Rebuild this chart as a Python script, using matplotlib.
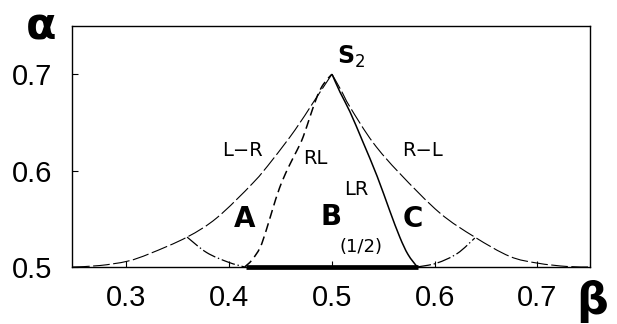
import matplotlib
matplotlib.use("Agg")
import matplotlib.pyplot as plt
from matplotlib.path import Path
from matplotlib.patches import PathPatch
import numpy as np

plt.rcParams['font.family'] = ['DejaVu Sans']
plt.rcParams['lines.scale_dashes'] = False

# phase boundaries in the (beta, alpha) plane
lr_x = [0.248, 0.274, 0.301, 0.323, 0.359, 0.388, 0.423, 0.442, 0.464, 0.482, 0.500]
lr_y = [0.500, 0.5015, 0.506, 0.514, 0.531, 0.551, 0.587, 0.611, 0.642, 0.671, 0.700]

rl_x = [0.500, 0.509, 0.5175, 0.540, 0.566, 0.605, 0.639, 0.673, 0.700, 0.729, 0.751]
rl_y = [0.700, 0.683, 0.666, 0.629, 0.597, 0.556, 0.531, 0.511, 0.504, 0.5005, 0.500]

rl_in_x = [0.415, 0.422, 0.430, 0.436, 0.442, 0.449, 0.457, 0.466, 0.472, 0.479, 0.486, 0.492, 0.500]
rl_in_y = [0.500, 0.507, 0.520, 0.538, 0.559, 0.582, 0.602, 0.621, 0.635, 0.657, 0.678, 0.690, 0.700]

lr_in_x = [0.500, 0.508, 0.5175, 0.530, 0.544, 0.556, 0.566, 0.574, 0.583]
lr_in_y = [0.700, 0.681, 0.661, 0.630, 0.594, 0.559, 0.531, 0.513, 0.500]

a_x = [0.359, 0.378, 0.399, 0.415]
a_y = [0.531, 0.515, 0.505, 0.500]
c_x = [0.583, 0.602, 0.622, 0.639]
c_y = [0.500, 0.504, 0.514, 0.530]

seg_x = [0.416, 0.584]
seg_y = [0.5, 0.5]

xticks = [0.3, 0.4, 0.5, 0.6, 0.7]
yticks = [0.5, 0.6, 0.7]


def smooth(ax, xs, ys, **kw):
    # Catmull-Rom through the points, drawn as cubic Bezier segments
    p = np.column_stack([xs, ys])
    n = len(p)
    verts = [p[0]]
    codes = [Path.MOVETO]
    for i in range(n - 1):
        p0 = p[i - 1] if i > 0 else p[i]
        p3 = p[i + 2] if i + 2 < n else p[i + 1]
        verts += [p[i] + (p[i + 1] - p0) / 6, p[i + 1] - (p3 - p[i]) / 6, p[i + 1]]
        codes += [Path.CURVE4] * 3
    ax.add_patch(PathPatch(Path(verts, codes), fill=False, edgecolor='black', **kw))


fig = plt.figure(figsize=(6.17, 3.24), dpi=100)
ax = fig.add_axes([0.1167, 0.176, 0.8393, 0.744])

smooth(ax, lr_x, lr_y, lw=0.8, linestyle=(0, (12, 2.5)))
smooth(ax, rl_x, rl_y, lw=0.8, linestyle=(0, (12, 2.5)))
smooth(ax, rl_in_x, rl_in_y, lw=1.1, linestyle=(0, (6.5, 3.5)))
smooth(ax, lr_in_x, lr_in_y, lw=1.1)
smooth(ax, a_x, a_y, lw=0.9, linestyle=(0, (10, 2, 1, 2)))
smooth(ax, c_x, c_y, lw=0.9, linestyle=(0, (10, 2, 1, 2)))
ax.plot(seg_x, seg_y, color='black', lw=3.4, solid_capstyle='butt', clip_on=False, zorder=3)

ax.set_xlim(0.247, 0.751)
ax.set_ylim(0.5, 0.75)
ax.set_xticks(xticks)
ax.set_yticks(yticks)
ax.set_xticklabels([f"{v:.1f}" for v in xticks])
ax.set_yticklabels([f"{v:.1f}" for v in yticks])
ax.tick_params(direction='in', length=4, width=0.8)
ax.tick_params(axis='y', pad=14)
ax.tick_params(axis='x', pad=12)
for lab in ax.get_xticklabels() + ax.get_yticklabels():
    lab.set_family(['Liberation Sans', 'DejaVu Sans'])
    lab.set_fontsize(21)
for s in ax.spines.values():
    s.set_linewidth(1.0)

ax.text(0.4134, 0.621, "L\u2212R", fontsize=14, ha='center', va='center')
ax.text(0.4835, 0.613, "RL", fontsize=14, ha='center', va='center')
ax.text(0.5885, 0.621, "R\u2212L", fontsize=14, ha='center', va='center')
ax.text(0.524, 0.580, "LR", fontsize=14, ha='center', va='center')
ax.text(0.415, 0.550, "A", fontsize=20, fontweight='bold', ha='center', va='center')
ax.text(0.499, 0.552, "B", fontsize=20, fontweight='bold', ha='center', va='center')
ax.text(0.579, 0.550, "C", fontsize=20, fontweight='bold', ha='center', va='center')
ax.text(0.528, 0.521, "(1/2)", fontsize=13, ha='center', va='center')
ax.text(0.519, 0.718, r"$\mathbf{S}_{\mathrm{2}}$", fontsize=17, ha='center', va='center')

fig.text(0.066, 0.917, "\u03b1", fontsize=32, fontweight='bold', ha='center', va='center')
fig.text(0.959, 0.068, "\u03b2", fontsize=32, fontweight='bold', ha='center', va='center')

fig.savefig("out.png", dpi=100)
